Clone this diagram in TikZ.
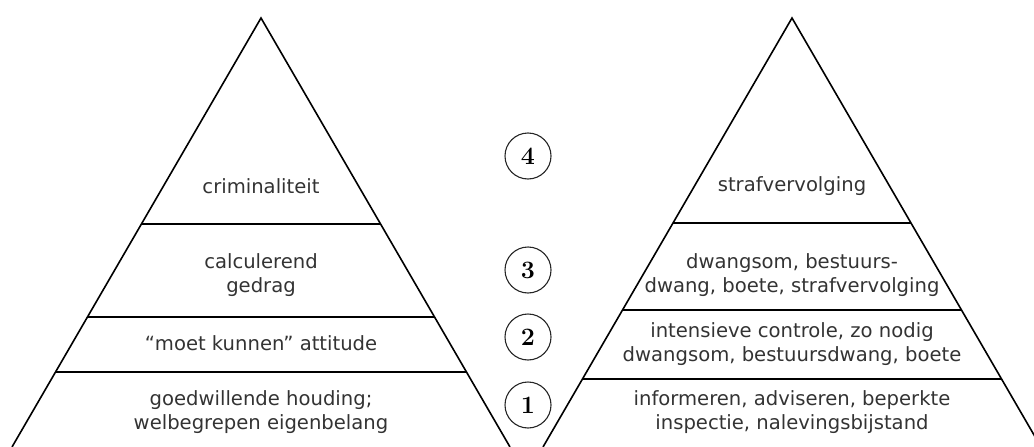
\documentclass[tikz,border=0pt]{standalone}
\usepackage{fontspec}
\setsansfont{DejaVu Sans}
\definecolor{tekstgrijs}{HTML}{333333}
\tikzset{
  laag/.style={font=\sffamily\fontsize{19.6}{24.5}\selectfont, text=tekstgrijs, align=center, inner sep=0pt},
  nummer/.style={circle, draw=black!85, line width=1.1pt, inner sep=0pt, minimum size=46pt, font=\bfseries\fontsize{25}{25}\selectfont},
  rand/.style={line width=1.6pt}
}
\begin{document}
\begin{tikzpicture}[x=1pt,y=-1pt]
\useasboundingbox (0,0) rectangle (1034,447);
\clip (0,0) rectangle (1034,447);
% linker piramide: gedrag
\draw[rand] (12,447) -- (261,18) -- (510,447);
\draw[rand] (141.4,224) -- (380.6,224);
\draw[rand] (87.5,317) -- (434.5,317);
\draw[rand] (55.5,372) -- (466.5,372);
\node[laag] (crim) at (261,186) {criminaliteit};
\node[laag] (calc) at (261,275) {calculerend\\gedrag};
\node[laag] (moet) at (261,343) {``moet kunnen'' attitude};
\node[laag] (goed) at (261,412) {goedwillende houding;\\welbegrepen eigenbelang};
% rechter piramide: handhaving
\draw[rand] (543,447) -- (792,18) -- (1041,447);
\draw[rand] (673,223) -- (911,223);
\draw[rand] (622.5,310) -- (961.5,310);
\draw[rand] (582.5,379) -- (1001.5,379);
\node[laag] (straf) at (792,186) {strafvervolging};
\node[laag] (dwang) at (792,275) {dwangsom, bestuurs-\\dwang, boete, strafvervolging};
\node[laag] (contr) at (792,344) {intensieve controle, zo nodig\\dwangsom, bestuursdwang, boete};
\node[laag] (info) at (792,412) {informeren, adviseren, beperkte\\inspectie, nalevingsbijstand};
% niveaus
\node[nummer] (n4) at (528,156) {4};
\node[nummer] (n3) at (528,270) {3};
\node[nummer] (n2) at (528,337) {2};
\node[nummer] (n1) at (528,405) {1};
\end{tikzpicture}
\end{document}
